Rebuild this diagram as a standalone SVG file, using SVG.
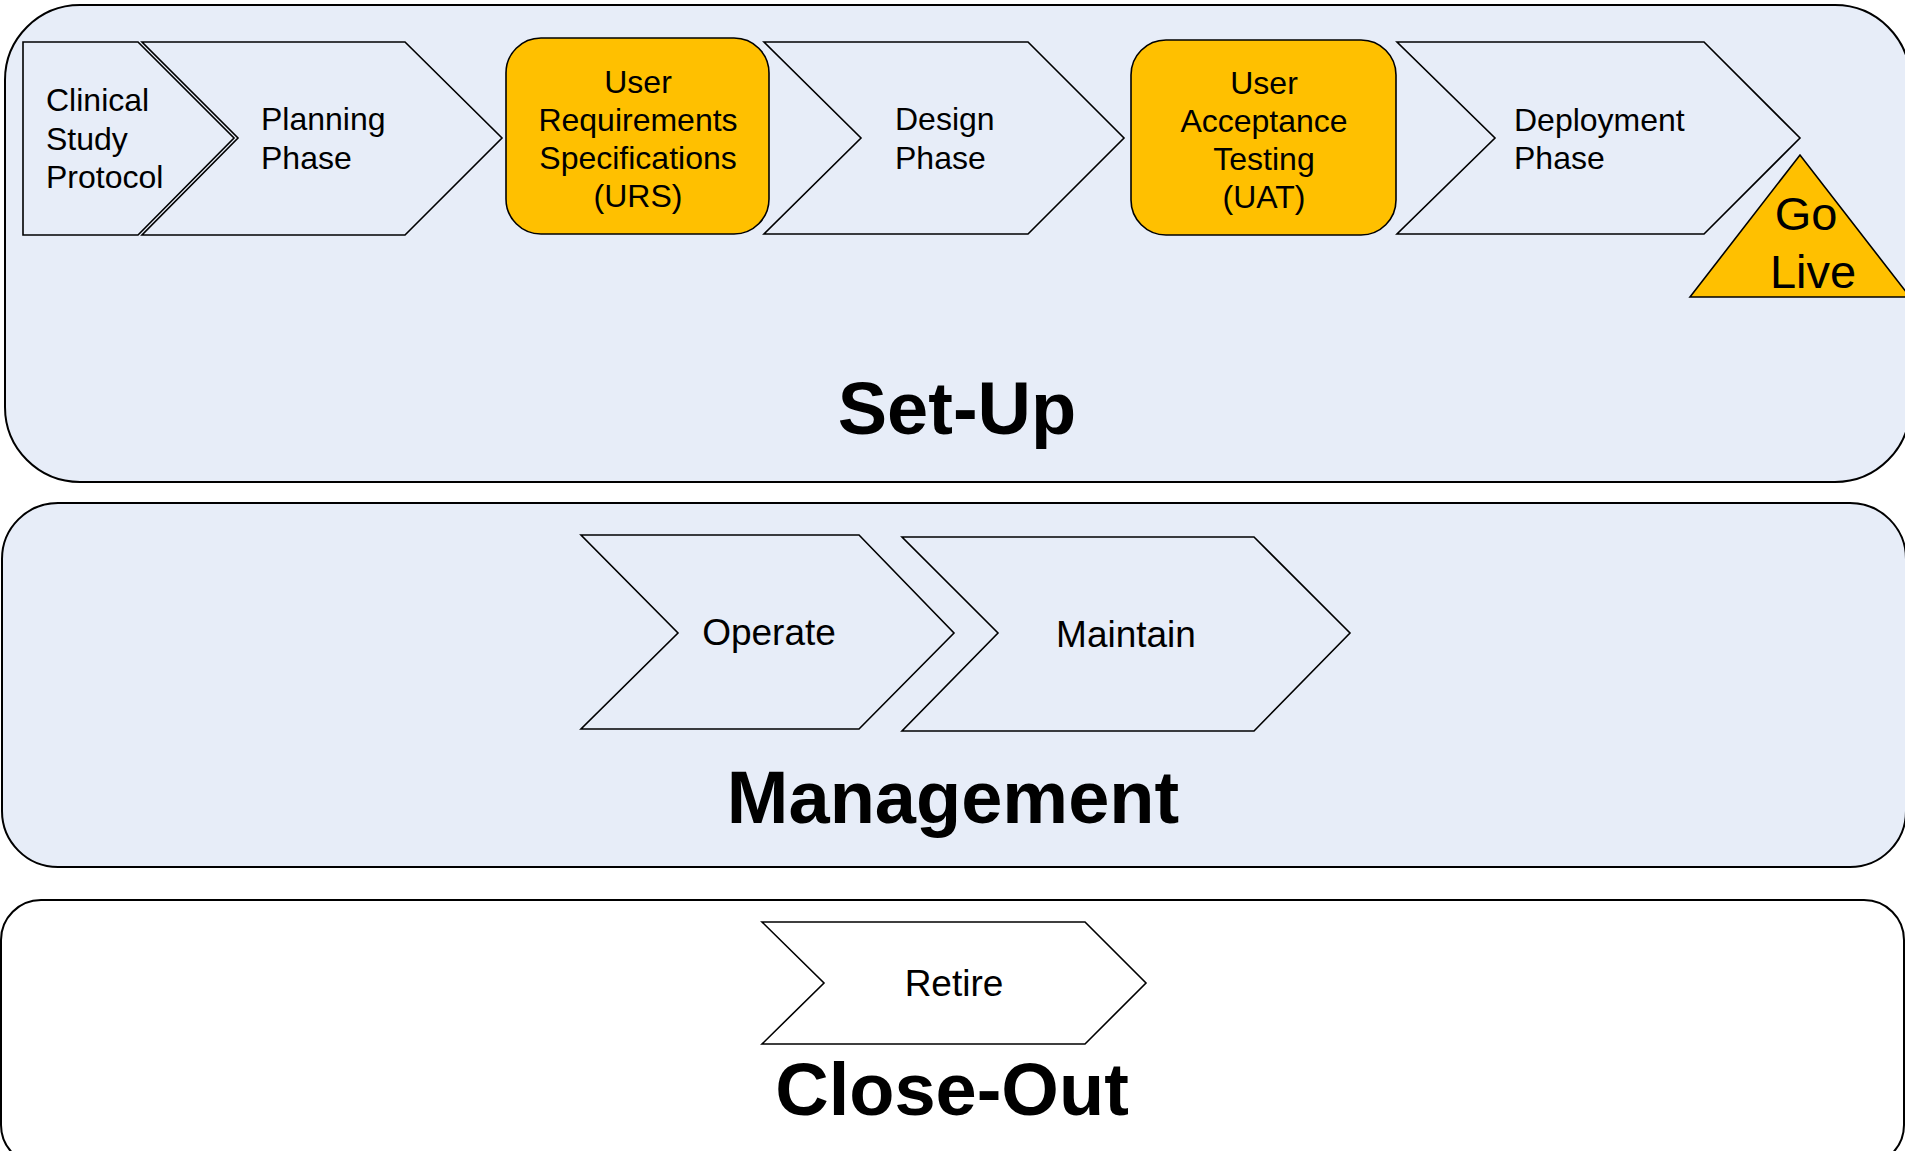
<svg xmlns="http://www.w3.org/2000/svg" width="1905" height="1151" viewBox="0 0 1905 1151">
  <style>
    .stage { fill: #E7EDF8; stroke: #000; stroke-width: 2; }
    .stage-white { fill: #FFFFFF; stroke: #000; stroke-width: 2; }
    .step { fill: #E7EDF8; stroke: #000; stroke-width: 1.6; stroke-linejoin: miter; }
    .gate { fill: #FFC000; stroke: #000; stroke-width: 1.6; }
    .lbl { font-family: "Liberation Sans", Arial, sans-serif; font-size: 32px; fill: #000; }
    .lbl-m { font-family: "Liberation Sans", Arial, sans-serif; font-size: 37px; fill: #000; }
    .lbl-l { font-family: "Liberation Sans", Arial, sans-serif; font-size: 47px; fill: #000; text-anchor: middle; }
    .mid { text-anchor: middle; }
    .title { font-family: "Liberation Sans", Arial, sans-serif; font-size: 74px; font-weight: bold; fill: #000; text-anchor: middle; }
  </style>

  <!-- Stage containers -->
  <g id="stage-setup">
    <rect class="stage" x="5" y="5" width="1905" height="477" rx="75" ry="75"/>
    <text class="title" x="957" y="434">Set-Up</text>
  </g>
  <g id="stage-management">
    <rect class="stage" x="2" y="503" width="1904" height="364" rx="56" ry="56"/>
    <text class="title" x="953" y="823">Management</text>
  </g>
  <g id="stage-closeout">
    <rect class="stage-white" x="1" y="900" width="1903" height="265" rx="40" ry="40"/>
    <text class="title" x="952" y="1115">Close-Out</text>
  </g>

  <!-- Set-Up steps -->
  <g id="node-protocol">
    <polygon class="step" points="23,42 138,42 234,138 138,235 23,235"/>
    <text class="lbl" x="46" y="111">Clinical</text>
    <text class="lbl" x="46" y="150">Study</text>
    <text class="lbl" x="46" y="188">Protocol</text>
  </g>
  <g id="node-planning">
    <polygon class="step" points="142,42 405,42 502,138 405,235 142,235 238,138"/>
    <text class="lbl" x="261" y="130">Planning</text>
    <text class="lbl" x="261" y="169">Phase</text>
  </g>
  <g id="node-urs">
    <rect class="gate" x="506" y="38" width="263" height="196" rx="35" ry="35"/>
    <text class="lbl mid" x="638" y="93">User</text>
    <text class="lbl mid" x="638" y="131">Requirements</text>
    <text class="lbl mid" x="638" y="169">Specifications</text>
    <text class="lbl mid" x="638" y="207">(URS)</text>
  </g>
  <g id="node-design">
    <polygon class="step" points="764,42 1028,42 1124,138 1028,234 764,234 861,138"/>
    <text class="lbl" x="895" y="130">Design</text>
    <text class="lbl" x="895" y="169">Phase</text>
  </g>
  <g id="node-uat">
    <rect class="gate" x="1131" y="40" width="265" height="195" rx="35" ry="35"/>
    <text class="lbl mid" x="1264" y="94">User</text>
    <text class="lbl mid" x="1264" y="132">Acceptance</text>
    <text class="lbl mid" x="1264" y="170">Testing</text>
    <text class="lbl mid" x="1264" y="208">(UAT)</text>
  </g>
  <g id="node-deployment">
    <polygon class="step" points="1397,42 1704,42 1800,138 1704,234 1397,234 1495,138"/>
    <text class="lbl" x="1514" y="131">Deployment</text>
    <text class="lbl" x="1514" y="169">Phase</text>
  </g>
  <g id="node-golive">
    <polygon class="gate" points="1690,297 1800,155 1910,297"/>
    <text class="lbl-l" x="1806" y="230">Go</text>
    <text class="lbl-l" x="1813" y="288">Live</text>
  </g>

  <!-- Management steps -->
  <g id="node-operate">
    <polygon class="step" points="581,535 859,535 954,633 859,729 581,729 678,633"/>
    <text class="lbl-m mid" x="769" y="645">Operate</text>
  </g>
  <g id="node-maintain">
    <polygon class="step" points="902,537 1254,537 1350,633 1254,731 902,731 998,633"/>
    <text class="lbl-m mid" x="1126" y="647">Maintain</text>
  </g>

  <!-- Close-Out step -->
  <g id="node-retire">
    <polygon class="stage-white" style="stroke-width:1.6" points="762,922 1085,922 1146,983 1085,1044 762,1044 824,983"/>
    <text class="lbl-m mid" x="954" y="996">Retire</text>
  </g>

  <!-- Steps abut directly; no separate connector lines -->
  <g id="connectors"/>
</svg>
